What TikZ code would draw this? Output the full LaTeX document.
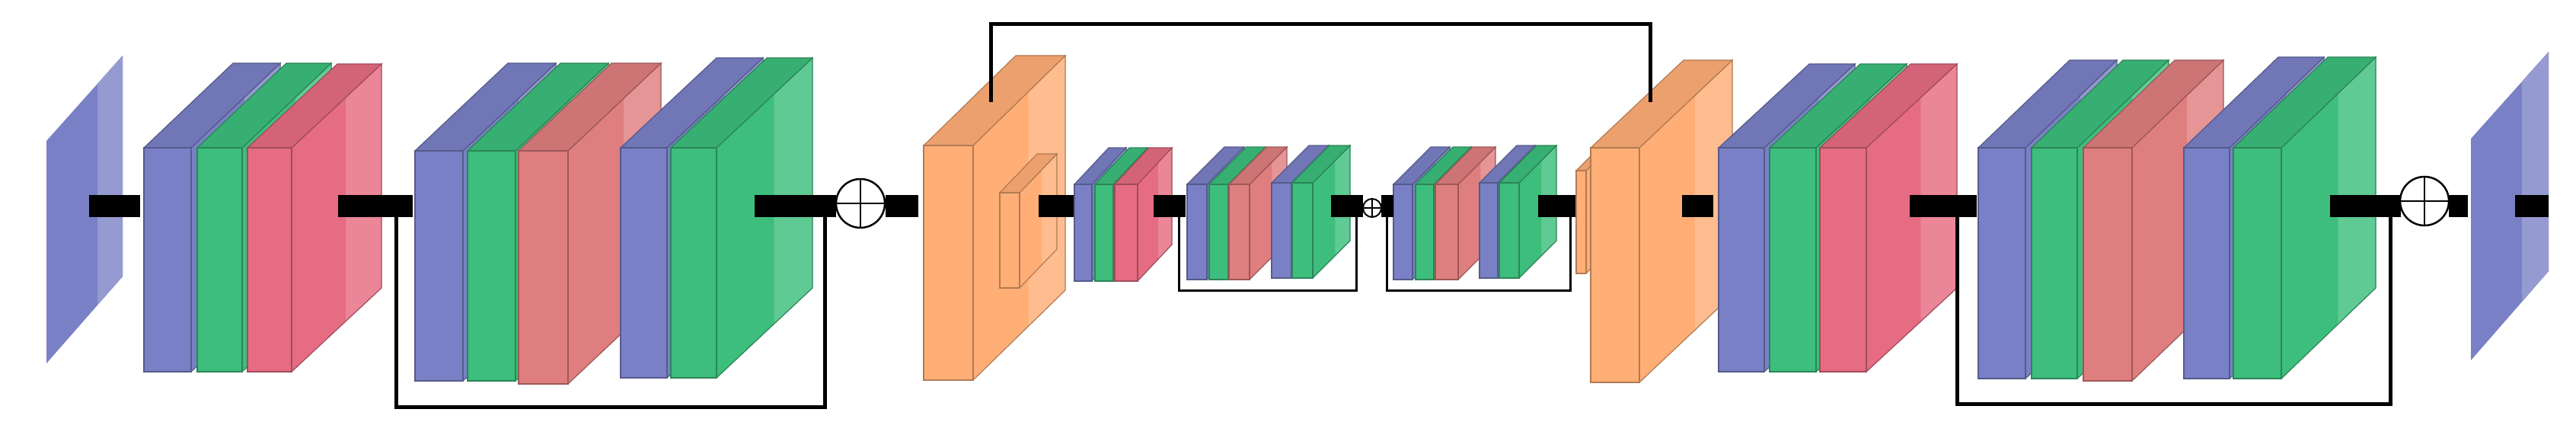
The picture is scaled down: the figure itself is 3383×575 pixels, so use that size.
\documentclass[tikz,border=0pt]{standalone}
\definecolor{cb}{HTML}{7A80C6}
\definecolor{cg}{HTML}{3DBE7C}
\definecolor{cr}{HTML}{E56C82}
\definecolor{cr2}{HTML}{DF7E7E}
\definecolor{co}{HTML}{FFAE76}
\newcommand\slab[7]{%
 \fill[#7] (#1+#3,#2)--++(#5,-#6)--++(0,#4)--++(-#5,#6)--cycle;
 \fill[#7!82!white] (#1+#3+#5*0.6,#2-#6*0.6)--(#1+#3+#5,#2-#6)--(#1+#3+#5,#2+#4-#6)--(#1+#3+#5*0.6,#2+#4-#6*0.6)--cycle;
 \draw[#7!70!black,line width=1.2pt] (#1+#3,#2)--++(#5,-#6)--++(0,#4)--++(-#5,#6);
 \filldraw[fill=#7!92!black,draw=#7!70!black,line width=1.2pt] (#1,#2)--++(#5,-#6)--++(#3,0)--++(-#5,#6)--cycle;
 \filldraw[fill=#7,draw=#7!70!black,line width=1.2pt] (#1,#2) rectangle ++(#3,#4);}
\begin{document}
\begin{tikzpicture}[x=1pt,y=-1pt,
 bar/.style={line width=29pt},
 wire/.style={line width=5pt},
 thin wire/.style={line width=3pt}]
\useasboundingbox (0,0) rectangle (3383,575);
\fill[white] (0,0) rectangle (3383,575);
% input plane
\fill[cb] (61,185)--(161,73)--(161,363)--(61,477)--cycle;
\fill[cb!80!white] (128,110)--(161,73)--(161,363)--(128,400)--cycle;
\fill[cb] (3245,182)--(3347,68)--(3347,356)--(3245,473)--cycle;
\fill[cb!80!white] (3312,107)--(3347,68)--(3347,356)--(3312,395)--cycle;
% block 1
\slab{189}{194}{62}{294}{117}{111}{cb}
\slab{259}{194}{59}{294}{117}{111}{cg}
\slab{325}{194}{58}{294}{118}{110}{cr}
% block 2
\slab{545}{198}{63}{302}{122}{115}{cb}
\slab{614}{198}{63}{302}{122}{115}{cg}
\slab{681}{198}{65}{306}{122}{115}{cr2}
\slab{815}{194}{61}{302}{126}{118}{cb}
\slab{881}{194}{60}{302}{126}{118}{cg}
% orange 1
\slab{1213}{191}{65}{308}{121}{118}{co}
\slab{1313}{253}{26}{125}{49}{51}{co}
% small A
\slab{1411}{242}{23}{127}{45}{48}{cb}
\slab{1438}{242}{24}{127}{45}{48}{cg}
\slab{1464}{242}{30}{127}{45}{48}{cr}
% small B
\slab{1559}{242}{26}{125}{49}{49}{cb}
\slab{1588}{242}{25}{125}{49}{49}{cg}
\slab{1614}{242}{27}{125}{49}{49}{cr2}
\slab{1670}{240}{26}{125}{49}{49}{cb}
\slab{1697}{240}{27}{125}{49}{49}{cg}
% small C
\slab{1830}{242}{25}{125}{49}{49}{cb}
\slab{1859}{242}{24}{125}{49}{49}{cg}
\slab{1885}{242}{30}{125}{49}{49}{cr2}
\slab{1943}{240}{24}{125}{49}{49}{cb}
\slab{1969}{240}{26}{125}{49}{49}{cg}
% orange 2
\slab{2070}{224}{13}{135}{20}{20}{co}
\slab{2089}{194}{64}{308}{122}{115}{co}
% block 4
\slab{2257}{194}{60}{294}{119}{110}{cb}
\slab{2324}{194}{61}{294}{119}{110}{cg}
\slab{2390}{194}{61}{294}{119}{110}{cr}
% block 5
\slab{2598}{194}{62}{303}{120}{115}{cb}
\slab{2668}{194}{60}{303}{120}{115}{cg}
\slab{2736}{194}{64}{306}{120}{115}{cr2}
\slab{2868}{194}{60}{303}{124}{119}{cb}
\slab{2933}{194}{63}{303}{124}{119}{cg}
% skip wires
\coordinate (s1a) at (520,270); \coordinate (s1b) at (1083,270);
\draw[wire] (s1a)--(520,534)--(1083,534)--(s1b);
\coordinate (s2a) at (2570,270); \coordinate (s2b) at (3139,270);
\draw[wire] (s2a)--(2570,530)--(3139,530)--(s2b);
\coordinate (t1) at (1301,134); \coordinate (t2) at (2167,134);
\draw[wire] (t1)--(1301,32)--(2167,32)--(t2);
\coordinate (b1) at (1548,270); \coordinate (b2) at (1781,270);
\draw[thin wire] (b1)--(1548,381)--(1781,381)--(b2);
\coordinate (c1) at (1821,270); \coordinate (c2) at (2062,270);
\draw[thin wire] (c1)--(1821,381)--(2062,381)--(c2);
% bars
\draw[bar] (117,270)--(184,270);
\draw[bar] (444,270)--(542,270);
\draw[bar] (991,270)--(1098,270);
\draw[bar] (1163,270)--(1206,270);
\draw[bar] (1364,270)--(1410,270);
\draw[bar] (1515,270)--(1557,270);
\draw[bar] (1748,270)--(1790,270);
\draw[bar] (1814,270)--(1830,270);
\draw[bar] (2020,270)--(2069,270);
\draw[bar] (2209,270)--(2250,270);
\draw[bar] (2508,270)--(2596,270);
\draw[bar] (3060,270)--(3153,270);
\draw[bar] (3216,270)--(3241,270);
\draw[bar] (3303,270)--(3347,270);
% adders
\node[circle,draw,fill=white,line width=2.5pt,minimum size=64pt,inner sep=0pt] (p1) at (1130,267) {};
\draw[line width=2.5pt] (p1.north)--(p1.south) (p1.west)--(p1.east);
\node[circle,draw,fill=white,line width=2pt,minimum size=24pt,inner sep=0pt] (p2) at (1802,273) {};
\draw[line width=2pt] (p2.north)--(p2.south) (p2.west)--(p2.east);
\node[circle,draw,fill=white,line width=2.5pt,minimum size=64pt,inner sep=0pt] (p3) at (3184,264) {};
\draw[line width=2.5pt] (p3.north)--(p3.south) (p3.west)--(p3.east);
\end{tikzpicture}
\end{document}
